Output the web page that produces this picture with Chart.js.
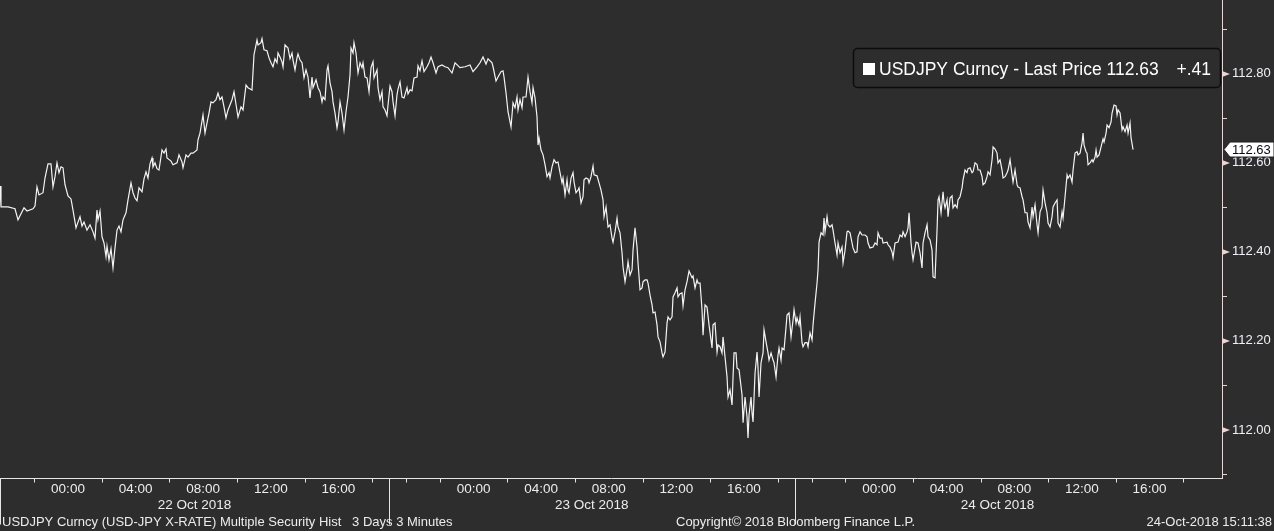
<!DOCTYPE html>
<html>
<head>
<meta charset="utf-8">
<title>USDJPY Curncy - Last Price</title>
<script src="https://cdn.jsdelivr.net/npm/chart.js@4.4.1/dist/chart.umd.min.js"></script>
<style>
  html, body { margin: 0; padding: 0; background: #2d2d2d; overflow: hidden; }
  canvas { display: block; }
</style>
</head>
<body>
<canvas id="chartFx" width="1274" height="531"></canvas>
<script>
/* USDJPY 3 min, dernier prix. Heures comptées depuis 22 Oct 2018 00:00 */
const timeHours = [
  -4.024, -3.965, -3.551, -3.137, -2.959, -2.604, -2.426, -2.071, -1.953, -1.835,
  -1.716, -1.480, -1.361, -1.184, -1.006, -0.888, -0.769, -0.651, -0.533, -0.414,
  -0.296, -0.178, 0, 0.178, 0.296, 0.473, 0.592, 0.710, 0.829, 0.947,
  1.124, 1.302, 1.480, 1.598, 1.716, 1.775, 1.894, 2.012, 2.130, 2.249,
  2.308, 2.426, 2.545, 2.663, 2.781, 2.900, 3.018, 3.137, 3.255, 3.432,
  3.551, 3.728, 3.847, 3.965, 4.083, 4.202, 4.379, 4.498, 4.616, 4.734,
  4.853, 4.971, 5.030, 5.149, 5.267, 5.385, 5.563, 5.681, 5.800, 5.859,
  6.096, 6.214, 6.451, 6.569, 6.747, 6.806, 6.983, 7.102, 7.279, 7.398,
  7.634, 7.693, 7.812, 7.989, 8.108, 8.226, 8.344, 8.463, 8.581, 8.759,
  8.877, 8.995, 9.114, 9.232, 9.350, 9.469, 9.706, 9.824, 10.061, 10.238,
  10.357, 10.534, 10.652, 10.889, 11.007, 11.185, 11.244, 11.422, 11.481, 11.599,
  11.777, 11.895, 12.014, 12.132, 12.250, 12.369, 12.428, 12.546, 12.665, 12.724,
  12.842, 13.020, 13.138, 13.256, 13.316, 13.434, 13.552, 13.611, 13.730, 13.848,
  13.966, 14.085, 14.203, 14.322, 14.440, 14.499, 14.677, 14.795, 14.913, 15.032,
  15.091, 15.209, 15.328, 15.387, 15.505, 15.624, 15.683, 15.801, 15.919, 15.979,
  16.097, 16.215, 16.334, 16.452, 16.570, 16.689, 16.748, 16.866, 16.925, 17.044,
  17.162, 17.281, 17.399, 17.458, 17.576, 17.695, 17.813, 17.932, 18.050, 18.109,
  18.287, 18.346, 18.464, 18.583, 18.642, 18.760, 18.878, 18.938, 19.056, 19.174,
  19.234, 19.352, 19.470, 19.529, 19.648, 19.766, 19.885, 20.062, 20.121, 20.240,
  20.358, 20.476, 20.654, 20.713, 20.831, 20.950, 21.068, 21.246, 21.364, 21.482,
  21.601, 21.778, 21.897, 22.133, 22.311, 22.488, 22.725, 22.903, 23.199, 23.494,
  23.790, 23.968, 24.205, 24.382, 24.560, 24.737, 24.856, 25.092, 25.152, 25.329,
  25.447, 25.625, 25.743, 25.802, 25.921, 26.039, 26.217, 26.335, 26.453, 26.572,
  26.631, 26.749, 26.868, 26.927, 27.104, 27.223, 27.341, 27.460, 27.519, 27.637,
  27.755, 27.815, 27.874, 27.992, 28.111, 28.229, 28.347, 28.466, 28.525, 28.643,
  28.762, 28.880, 28.998, 29.117, 29.235, 29.294, 29.412, 29.531, 29.590, 29.649,
  29.768, 29.886, 29.945, 30.063, 30.182, 30.241, 30.359, 30.478, 30.537, 30.655,
  30.774, 30.833, 30.951, 31.070, 31.129, 31.306, 31.425, 31.543, 31.661, 31.720,
  31.839, 31.957, 32.076, 32.194, 32.253, 32.371, 32.490, 32.549, 32.667, 32.786,
  32.845, 32.963, 33.082, 33.141, 33.259, 33.378, 33.437, 33.555, 33.674, 33.733,
  33.851, 33.969, 34.029, 34.147, 34.265, 34.324, 34.443, 34.561, 34.620, 34.739,
  34.857, 34.916, 35.035, 35.153, 35.212, 35.330, 35.449, 35.508, 35.626, 35.745,
  35.804, 35.922, 36.041, 36.100, 36.218, 36.337, 36.396, 36.514, 36.632, 36.751,
  36.928, 36.988, 37.106, 37.224, 37.283, 37.402, 37.520, 37.579, 37.698, 37.816,
  37.934, 38.112, 38.171, 38.289, 38.408, 38.467, 38.585, 38.704, 38.763, 38.881,
  39.000, 39.059, 39.177, 39.296, 39.355, 39.414, 39.532, 39.591, 39.710, 39.887,
  39.947, 40.065, 40.183, 40.242, 40.302, 40.420, 40.479, 40.538, 40.657, 40.775,
  40.834, 40.893, 41.012, 41.130, 41.189, 41.308, 41.426, 41.485, 41.604, 41.722,
  41.781, 41.899, 42.018, 42.077, 42.195, 42.255, 42.373, 42.491, 42.550, 42.669,
  42.787, 42.906, 42.965, 43.083, 43.142, 43.261, 43.320, 43.438, 43.497, 43.616,
  43.734, 43.793, 43.912, 44.030, 44.089, 44.207, 44.326, 44.385, 44.444, 44.563,
  44.681, 44.740, 44.799, 44.918, 44.977, 45.095, 45.214, 45.273, 45.391, 45.510,
  45.569, 45.687, 45.805, 45.865, 45.983, 46.101, 46.160, 46.279, 46.397, 46.456,
  46.575, 46.693, 46.752, 46.871, 46.989, 47.166, 47.285, 47.344, 47.462, 47.640,
  47.758, 47.877, 47.936, 48.054, 48.173, 48.232, 48.468, 48.528, 48.646, 48.764,
  48.824, 48.942, 49.119, 49.238, 49.356, 49.415, 49.534, 49.652, 49.711, 49.770,
  49.889, 49.948, 50.007, 50.185, 50.303, 50.421, 50.540, 50.599, 50.717, 50.836,
  50.895, 51.013, 51.132, 51.191, 51.309, 51.427, 51.487, 51.546, 51.664, 51.783,
  51.842, 51.901, 52.019, 52.078, 52.197, 52.315, 52.374, 52.493, 52.611, 52.670,
  52.789, 52.907, 52.966, 53.084, 53.203, 53.262, 53.380, 53.499, 53.558, 53.676,
  53.795, 53.854, 53.972, 54.091, 54.150, 54.268, 54.386, 54.446, 54.564, 54.682,
  54.742, 54.860, 54.978, 55.037, 55.156, 55.274, 55.333, 55.452, 55.570, 55.629,
  55.748, 55.866, 55.925, 56.043, 56.162, 56.221, 56.339, 56.458, 56.517, 56.635,
  56.754, 56.813, 56.931, 57.050, 57.109, 57.227, 57.345, 57.405, 57.523, 57.641,
  57.701, 57.819, 57.937, 57.996, 58.115, 58.233, 58.292, 58.411, 58.529, 58.588,
  58.707, 58.825, 58.884, 59.002, 59.121, 59.180, 59.298, 59.417, 59.476, 59.594,
  59.713, 59.772, 59.890, 60.009, 60.068, 60.127, 60.245, 60.304, 60.364, 60.482,
  60.600, 60.660, 60.778, 60.837, 60.896, 61.015, 61.133, 61.251, 61.310, 61.429,
  61.488, 61.606, 61.725, 61.784, 61.902, 62.021, 62.080, 62.139, 62.257, 62.376,
  62.435, 62.553, 62.672, 62.731, 62.849, 62.908, 63.027
];

const lastPrice = [
  112.548, 112.501, 112.501, 112.497, 112.472, 112.499, 112.492, 112.497, 112.503, 112.546,
  112.528, 112.533, 112.566, 112.598, 112.598, 112.546, 112.569, 112.600, 112.578, 112.591,
  112.589, 112.551, 112.526, 112.519, 112.494, 112.454, 112.467, 112.479, 112.458, 112.467,
  112.449, 112.461, 112.445, 112.431, 112.494, 112.472, 112.492, 112.434, 112.420, 112.389,
  112.413, 112.382, 112.407, 112.364, 112.409, 112.449, 112.458, 112.445, 112.472, 112.488,
  112.517, 112.555, 112.533, 112.521, 112.515, 112.544, 112.535, 112.564, 112.580, 112.566,
  112.598, 112.611, 112.591, 112.600, 112.587, 112.584, 112.629, 112.622, 112.631, 112.611,
  112.604, 112.596, 112.600, 112.618, 112.602, 112.589, 112.618, 112.613, 112.622, 112.622,
  112.629, 112.652, 112.667, 112.708, 112.667, 112.690, 112.712, 112.737, 112.735, 112.742,
  112.757, 112.742, 112.748, 112.726, 112.701, 112.719, 112.742, 112.760, 112.703, 112.726,
  112.719, 112.775, 112.769, 112.764, 112.843, 112.876, 112.865, 112.870, 112.879, 112.854,
  112.852, 112.836, 112.825, 112.816, 112.834, 112.825, 112.847, 112.838, 112.827, 112.816,
  112.865, 112.858, 112.834, 112.847, 112.831, 112.809, 112.836, 112.845, 112.831, 112.825,
  112.791, 112.809, 112.793, 112.746, 112.793, 112.769, 112.787, 112.769, 112.760, 112.737,
  112.748, 112.742, 112.809, 112.818, 112.780, 112.760, 112.737, 112.712, 112.679, 112.692,
  112.737, 112.712, 112.674, 112.715, 112.748, 112.798, 112.858, 112.847, 112.870, 112.847,
  112.802, 112.825, 112.814, 112.825, 112.793, 112.791, 112.760, 112.814, 112.827, 112.791,
  112.809, 112.769, 112.742, 112.760, 112.726, 112.719, 112.706, 112.730, 112.773, 112.760,
  112.737, 112.706, 112.753, 112.766, 112.782, 112.748, 112.746, 112.769, 112.755, 112.764,
  112.762, 112.791, 112.793, 112.818, 112.807, 112.829, 112.805, 112.816, 112.825, 112.838,
  112.825, 112.802, 112.816, 112.820, 112.816, 112.814, 112.802, 112.825, 112.814, 112.816,
  112.820, 112.805, 112.816, 112.825, 112.838, 112.822, 112.834, 112.825, 112.816, 112.784,
  112.793, 112.805, 112.807, 112.793, 112.757, 112.715, 112.681, 112.735, 112.724, 112.748,
  112.719, 112.742, 112.724, 112.748, 112.748, 112.793, 112.760, 112.735, 112.769, 112.746,
  112.703, 112.640, 112.656, 112.629, 112.618, 112.596, 112.569, 112.578, 112.566, 112.591,
  112.607, 112.600, 112.602, 112.578, 112.555, 112.566, 112.528, 112.562, 112.539, 112.533,
  112.566, 112.578, 112.557, 112.533, 112.539, 112.544, 112.510, 112.524, 112.562, 112.566,
  112.564, 112.555, 112.569, 112.593, 112.573, 112.571, 112.555, 112.539, 112.517, 112.479,
  112.501, 112.456, 112.461, 112.431, 112.422, 112.445, 112.476, 112.456, 112.443, 112.398,
  112.366, 112.333, 112.360, 112.378, 112.348, 112.360, 112.404, 112.454, 112.411, 112.375,
  112.315, 112.319, 112.333, 112.337, 112.337, 112.330, 112.303, 112.281, 112.263, 112.265,
  112.236, 112.209, 112.198, 112.173, 112.164, 112.175, 112.240, 112.254, 112.247, 112.254,
  112.299, 112.308, 112.319, 112.299, 112.306, 112.308, 112.279, 112.315, 112.333, 112.357,
  112.342, 112.346, 112.319, 112.337, 112.330, 112.330, 112.270, 112.213, 112.281, 112.276,
  112.236, 112.184, 112.236, 112.240, 112.175, 112.191, 112.187, 112.173, 112.209, 112.164,
  112.119, 112.074, 112.090, 112.056, 112.119, 112.173, 112.173, 112.139, 112.135, 112.079,
  112.016, 112.074, 112.029, 111.982, 112.034, 112.074, 112.038, 112.018, 112.128, 112.175,
  112.139, 112.074, 112.151, 112.173, 112.225, 112.198, 112.173, 112.157, 112.173, 112.157,
  112.151, 112.119, 112.169, 112.184, 112.157, 112.184, 112.180, 112.231, 112.258, 112.263,
  112.209, 112.247, 112.270, 112.240, 112.252, 112.236, 112.254, 112.196, 112.187, 112.196,
  112.196, 112.187, 112.218, 112.202, 112.236, 112.285, 112.330, 112.360, 112.422, 112.443,
  112.438, 112.476, 112.445, 112.479, 112.461, 112.456, 112.461, 112.449, 112.420, 112.393,
  112.420, 112.398, 112.411, 112.375, 112.404, 112.445, 112.447, 112.443, 112.420, 112.409,
  112.398, 112.400, 112.434, 112.445, 112.438, 112.438, 112.434, 112.420, 112.409, 112.411,
  112.420, 112.416, 112.443, 112.431, 112.431, 112.420, 112.422, 112.416, 112.411, 112.400,
  112.387, 112.420, 112.422, 112.438, 112.434, 112.445, 112.434, 112.445, 112.454, 112.488,
  112.420, 112.398, 112.382, 112.422, 112.420, 112.398, 112.364, 112.420, 112.443, 112.461,
  112.434, 112.427, 112.404, 112.344, 112.342, 112.449, 112.517, 112.524, 112.488, 112.535,
  112.510, 112.499, 112.517, 112.479, 112.521, 112.526, 112.499, 112.506, 112.499, 112.517,
  112.524, 112.544, 112.562, 112.584, 112.578, 112.587, 112.589, 112.578, 112.580, 112.600,
  112.596, 112.584, 112.584, 112.569, 112.551, 112.555, 112.569, 112.580, 112.573, 112.607,
  112.636, 112.631, 112.622, 112.600, 112.607, 112.584, 112.566, 112.569, 112.578, 112.584,
  112.607, 112.573, 112.557, 112.584, 112.551, 112.546, 112.544, 112.524, 112.517, 112.488,
  112.488, 112.467, 112.454, 112.501, 112.479, 112.506, 112.461, 112.443, 112.490, 112.501,
  112.539, 112.510, 112.488, 112.465, 112.456, 112.479, 112.501, 112.510, 112.517, 112.465,
  112.456, 112.490, 112.476, 112.524, 112.573, 112.566, 112.573, 112.557, 112.584, 112.622,
  112.625, 112.618, 112.622, 112.645, 112.667, 112.640, 112.625, 112.622, 112.596, 112.600,
  112.607, 112.602, 112.613, 112.629, 112.613, 112.618, 112.636, 112.654, 112.647, 112.667,
  112.685, 112.679, 112.692, 112.712, 112.730, 112.728, 112.708, 112.719, 112.712, 112.674,
  112.681, 112.670, 112.685, 112.667, 112.690, 112.656, 112.630
];

/* axes */
const yTickValues    = [112.0, 112.2, 112.4, 112.6, 112.8];
const yMinorValues   = [111.9, 112.1, 112.3, 112.5, 112.7, 112.9];
const timeLabelHours = [0, 4, 8, 12, 16, 24, 28, 32, 36, 40, 48, 52, 56, 60, 64];
const tickMarkHours  = [-2, 2, 6, 10, 14, 18, 20, 22, 26, 30, 34, 38, 42, 44, 46, 50, 54, 58, 62, 66];
const daySepHours    = [-4.02, 19, 43];
const dayLabels      = ['22 Oct 2018', '23 Oct 2018', '24 Oct 2018'];
const dayLabelHours  = [7.49, 31, 55];

/* textes */
const lastValue    = 112.63;
const legendText   = 'USDJPY Curncy - Last Price 112.63';
const legendChange = '+.41';
const footerLeft   = 'USDJPY Curncy (USD-JPY X-RATE) Multiple Security Hist   3 Days 3 Minutes';
const footerMid    = 'Copyright\u00A9 2018 Bloomberg Finance L.P.';
const footerRight  = '24-Oct-2018 15:11:38';

const FONT = "'Liberation Sans', Arial, sans-serif";
const BG = '#2d2d2d';
const AXIS_PINK = '#f1d3d3';
const TXT = '#ececec';

/* ============================================================
   Décor façon terminal : fond, repères, légende, pied de page
============================================================ */
const terminalFrame = {
    id: 'terminalFrame',
    beforeDraw(chart) {
        const c = chart.ctx;
        c.save();
        c.fillStyle = BG;
        c.fillRect(0, 0, chart.width, chart.height);
        c.restore();
    },
    afterDraw(chart) {
        const c = chart.ctx;
        const xs = chart.scales.x, ys = chart.scales.y;
        const axisTop = xs.top + 0.5;
        c.save();

        // petits repères horaires sous l'axe
        c.strokeStyle = '#e6e6e6';
        c.lineWidth = 1;
        c.beginPath();
        tickMarkHours.forEach(h => {
            const px = Math.round(xs.getPixelForValue(h)) + 0.5;
            c.moveTo(px, axisTop);
            c.lineTo(px, axisTop + 4);
        });
        // séparateurs de jours
        daySepHours.forEach(h => {
            const px = Math.max(0.5, Math.round(xs.getPixelForValue(h)) + 0.5);
            c.moveTo(px, axisTop);
            c.lineTo(px, axisTop + 46);
        });
        c.stroke();

        // dates
        c.fillStyle = TXT;
        c.font = '13.5px ' + FONT;
        c.textAlign = 'center';
        c.textBaseline = 'middle';
        dayLabels.forEach((lbl, i) => {
            c.fillText(lbl, xs.getPixelForValue(dayLabelHours[i]), 505);
        });

        // axe des prix : tirets mineurs + flèches majeures
        c.strokeStyle = AXIS_PINK;
        c.fillStyle = AXIS_PINK;
        c.beginPath();
        yMinorValues.forEach(v => {
            const py = Math.round(ys.getPixelForValue(v)) + 0.5;
            c.moveTo(ys.left, py);
            c.lineTo(ys.left + 5, py);
        });
        c.stroke();
        yTickValues.forEach(v => {
            const py = ys.getPixelForValue(v);
            c.beginPath();
            c.moveTo(ys.left, py - 3);
            c.lineTo(ys.left + 8, py);
            c.lineTo(ys.left, py + 3);
            c.closePath();
            c.fill();
        });

        // étiquette du dernier prix
        const pyLast = ys.getPixelForValue(lastValue);
        const xl = ys.left + 2;
        c.beginPath();
        c.moveTo(xl, pyLast);
        c.lineTo(xl + 6, pyLast - 7.5);
        c.lineTo(chart.width, pyLast - 7.5);
        c.lineTo(chart.width, pyLast + 7.5);
        c.lineTo(xl + 6, pyLast + 7.5);
        c.closePath();
        c.fillStyle = '#ffffff';
        c.fill();
        c.strokeStyle = '#222';
        c.stroke();
        c.fillStyle = '#0a0a14';
        c.font = '13px ' + FONT;
        c.textAlign = 'left';
        c.fillText(lastValue.toFixed(2), xl + 8, pyLast + 0.5);

        // légende encadrée
        c.beginPath();
        c.roundRect(853.5, 48.5, 367, 39, 4);
        c.fillStyle = BG;
        c.fill();
        c.strokeStyle = '#0c0c0c';
        c.lineWidth = 1.5;
        c.stroke();
        c.fillStyle = '#ffffff';
        c.fillRect(863, 63, 12, 12);
        c.font = '17.5px ' + FONT;
        c.textBaseline = 'alphabetic';
        c.textAlign = 'left';
        c.fillText(legendText, 879, 75);
        c.textAlign = 'right';
        c.fillText(legendChange, 1211, 75);

        // pied de page
        c.fillStyle = TXT;
        c.font = '13px ' + FONT;
        c.textBaseline = 'middle';
        c.textAlign = 'left';
        c.fillText(footerLeft, 2, 522);
        c.fillText(footerMid, 676, 522);
        c.textAlign = 'right';
        c.fillText(footerRight, 1272, 522);

        c.restore();
    }
};

const ctxFx = document.getElementById('chartFx');

new Chart(ctxFx, {
    type: 'line',
    data: {
        datasets: [{
            label: 'USDJPY Curncy - Last Price',
            data: timeHours.map((h, i) => ({ x: h, y: lastPrice[i] })),
            borderColor: '#f4f4f4',
            borderWidth: 1.2,
            pointRadius: 0,
            tension: 0,
            fill: false
        }]
    },
    options: {
        responsive: false,
        animation: false,
        devicePixelRatio: 1,
        layout: { padding: 0 },
        plugins: {
            legend: { display: false },
            tooltip: { enabled: false }
        },
        scales: {
            x: {
                type: 'linear',
                position: 'bottom',
                min: -4.024,
                max: 68.29,
                grid: { display: false, drawTicks: false },
                border: { display: true, color: '#e6e6e6', width: 1 },
                afterBuildTicks: s => { s.ticks = timeLabelHours.map(v => ({ value: v })); },
                afterFit: s => { s.height = 53; s.paddingLeft = 0; s.paddingRight = 0; },
                ticks: {
                    autoSkip: false, maxRotation: 0, padding: 3,
                    color: TXT, font: { family: FONT, size: 13.5 },
                    callback: v => String(((v % 24) + 24) % 24).padStart(2, '0') + ':00'
                }
            },
            y: {
                position: 'right',
                min: 111.892,
                max: 112.966,
                grid: { display: false, drawTicks: false },
                border: { display: true, color: AXIS_PINK, width: 1 },
                afterBuildTicks: s => { s.ticks = yTickValues.map(v => ({ value: v })); },
                afterFit: s => { s.width = 52; s.paddingTop = 0; s.paddingBottom = 0; },
                ticks: {
                    padding: 10, color: '#eef1f7',
                    font: { family: FONT, size: 13 },
                    callback: v => v.toFixed(2)
                }
            }
        }
    },
    plugins: [terminalFrame]
});
</script>
</body>
</html>
